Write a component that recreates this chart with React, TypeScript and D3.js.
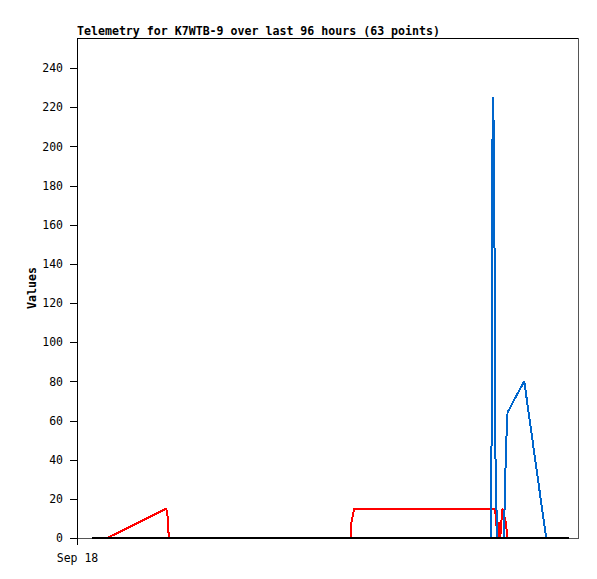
import React, { useEffect, useRef } from "react";
import * as d3 from "d3";

// hours since Sep 18 00:00, value
const zeroHours = [2.9, 94.3];
const zeroValues = [0, 0];

const redHours = [5.8, 17.1, 17.35, 17.6, 52.4, 52.6, 53.1, 79.4, 80.1, 80.6, 80.85, 81.1, 81.5, 82.1, 82.5];
const redValues = [0, 15, 11, 0, 0, 8, 15, 15, 15, 0, 8, 0, 15, 9, 0];

const blueHours = [79.4, 79.45, 79.55, 79.75, 79.95, 80.05, 80.2, 80.5, 81.8, 82.0, 82.15, 82.35, 82.5, 83.45, 85.7, 89.9];
const blueValues = [0, 80, 192, 225, 187, 112, 38, 0, 0, 24, 40, 56, 64, 69, 80, 0];

const yTicks = [0, 20, 40, 60, 80, 100, 120, 140, 160, 180, 200, 220, 240];
const xTickLabels = ["Sep 18"];
const title = "Telemetry for K7WTB-9 over last 96 hours (63 points)";

const App = () => {
  const svgRef = useRef(null);

  useEffect(() => {
    const width = 597;
    const height = 579;
    const margin = { top: 38, right: 19, bottom: 41, left: 77 };

    const svg = d3.select(svgRef.current);
    svg.selectAll("*").remove();
    svg.attr("width", width).attr("height", height);

    const start = new Date(2024, 8, 18, 0, 0, 0);
    const toDate = (h) => new Date(start.getTime() + h * 3600 * 1000);

    const x = d3
      .scaleTime()
      .domain([start, toDate(96)])
      .range([margin.left, width - margin.right]);

    // 0 -> 538, 240 -> 68
    const y = d3.scaleLinear().domain([0, 240]).range([height - margin.bottom, 68]);

    // frame
    svg
      .append("rect")
      .attr("x", margin.left)
      .attr("y", margin.top)
      .attr("width", width - margin.left - margin.right)
      .attr("height", height - margin.top - margin.bottom)
      .attr("fill", "white")
      .attr("stroke", "#555")
      .attr("shape-rendering", "crispEdges");

    svg
      .append("line")
      .attr("x1", margin.left)
      .attr("x2", width - margin.right)
      .attr("y1", margin.top)
      .attr("y2", margin.top)
      .attr("stroke", "black")
      .attr("shape-rendering", "crispEdges");

    // y axis
    const yAxis = svg
      .append("g")
      .attr("transform", `translate(${margin.left},0)`)
      .call(d3.axisLeft(y).tickValues(yTicks).tickSize(7).tickPadding(7).tickSizeOuter(0));
    yAxis.select(".domain").remove();
    yAxis.selectAll("line").attr("stroke", "black").attr("shape-rendering", "crispEdges");
    yAxis
      .selectAll("text")
      .attr("font-family", "'DejaVu Sans Mono', monospace")
      .attr("font-size", 11.5)
      .attr("fill", "black");

    svg
      .append("line")
      .attr("x1", margin.left)
      .attr("x2", margin.left)
      .attr("y1", margin.top)
      .attr("y2", height - margin.bottom + 7)
      .attr("stroke", "black")
      .attr("shape-rendering", "crispEdges");

    // x axis
    const xAxis = svg
      .append("g")
      .attr("transform", `translate(0,${height - margin.bottom})`)
      .call(
        d3
          .axisBottom(x)
          .tickValues([start])
          .tickFormat(() => xTickLabels[0])
          .tickSize(7)
          .tickPadding(9)
          .tickSizeOuter(0)
      );
    xAxis.select(".domain").remove();
    xAxis.selectAll("line").attr("stroke", "black").attr("shape-rendering", "crispEdges");
    xAxis
      .selectAll("text")
      .attr("font-family", "'DejaVu Sans Mono', monospace")
      .attr("font-size", 11.5)
      .attr("fill", "black");

    const line = d3
      .line()
      .x((d) => x(toDate(d[0])))
      .y((d) => y(d[1]));

    const series = [
      { hours: redHours, values: redValues, color: "#ff0000" },
      { hours: blueHours, values: blueValues, color: "#0066cc" },
      { hours: zeroHours, values: zeroValues, color: "#000000" },
    ];

    series.forEach((s) => {
      const pts = s.hours.map((h, i) => [h, s.values[i]]);
      svg
        .append("path")
        .datum(pts)
        .attr("fill", "none")
        .attr("stroke", s.color)
        .attr("stroke-width", 2)
        .attr("stroke-linejoin", "bevel")
        .attr("shape-rendering", "crispEdges")
        .attr("d", line);
    });

    // title
    svg
      .append("text")
      .attr("x", margin.left)
      .attr("y", 35)
      .attr("font-family", "'DejaVu Sans Mono', monospace")
      .attr("font-weight", "bold")
      .attr("font-size", 11.6)
      .attr("fill", "black")
      .text(title);

    // y label
    svg
      .append("text")
      .attr("transform", "rotate(-90)")
      .attr("x", -288)
      .attr("y", 36)
      .attr("text-anchor", "middle")
      .attr("font-family", "'DejaVu Sans Mono', monospace")
      .attr("font-weight", "bold")
      .attr("font-size", 11.6)
      .attr("fill", "black")
      .text("Values");
  }, []);

  return (
    <div>
      <style>{`body{margin:0}`}</style>
      <svg ref={svgRef}></svg>
    </div>
  );
};

export default App;
